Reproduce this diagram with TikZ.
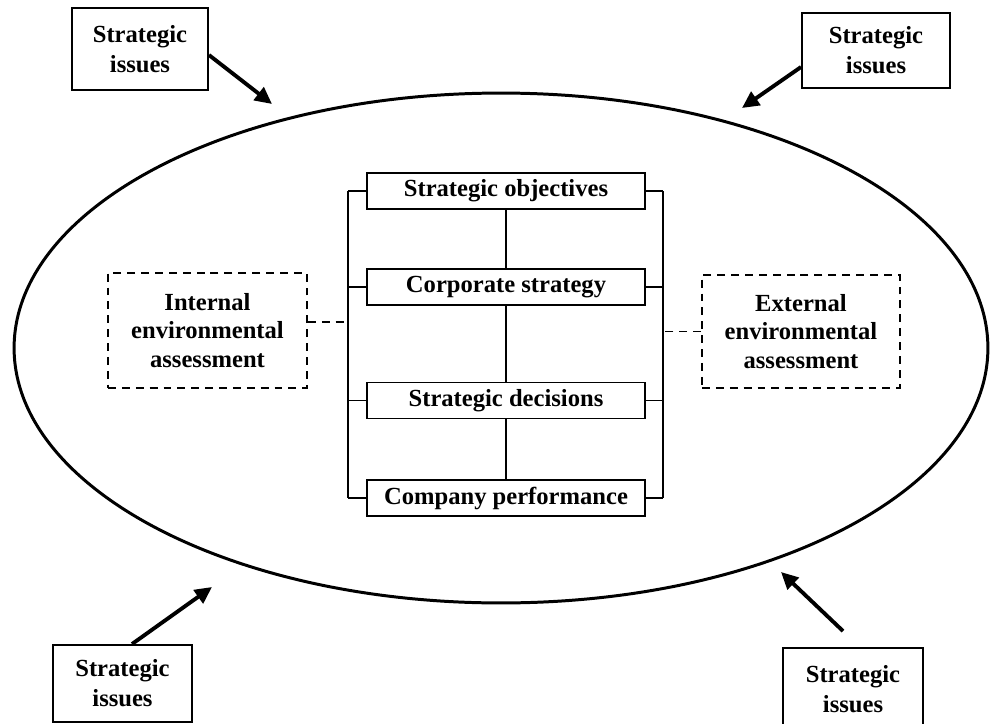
\documentclass[tikz,border=0pt]{standalone}
\usepackage{fontspec}
\setmainfont{Liberation Serif}
\usetikzlibrary{arrows.meta}
\begin{document}
\begin{tikzpicture}[x=0.02cm,y=-0.02cm,
  font=\fontsize{14}{17}\selectfont\bfseries,
  stagebox/.style={draw, line width=1.1pt, inner sep=0pt,
    minimum width=5.56cm, minimum height=0.72cm},
  issuebox/.style={draw, line width=1.1pt, inner sep=0pt, align=center},
  assessbox/.style={draw, line width=1.1pt, inner sep=0pt, align=center,
    dash pattern=on 4.5pt off 3.4pt, font=\fontsize{14}{16}\selectfont\bfseries},
  link/.style={line width=1.1pt},
  dashlink/.style={line width=1.1pt, dash pattern=on 4.5pt off 3.4pt},
  issuearrow/.style={line width=2.2pt, -{Triangle[length=0.34cm,width=0.32cm]}}
]
\useasboundingbox (0,0) rectangle (992,724);

% surrounding ellipse
\draw[line width=1.7pt] (501,348) ellipse [x radius=9.74cm, y radius=5.1cm];

% central chain of stages
\node[stagebox] (so) at (506,191)   {Strategic objectives};
\node[stagebox] (cs) at (506,287)   {Corporate strategy};
\node[stagebox] (sd) at (506,400.5) {Strategic decisions};
\node[stagebox] (cp) at (506,498)   {Company performance};

\draw[link] (so.south) -- (cs.north);
\draw[link] (cs.south) -- (sd.north);
\draw[link] (sd.south) -- (cp.north);

% side brackets
\coordinate (lx) at (348,0);
\coordinate (rx) at (663,0);
\draw[link] (so.west -| lx) -- (cp.west -| lx);
\draw[link] (so.east -| rx) -- (cp.east -| rx);
\foreach \b in {so,cs,sd,cp}{
  \draw[link] (\b.west) -- (\b.west -| lx);
  \draw[link] (\b.east) -- (\b.east -| rx);
}

% environmental assessments
\node[assessbox, minimum width=3.98cm, minimum height=2.3cm] (ia) at (207.5,330.5)
  {Internal\\environmental\\assessment};
\node[assessbox, minimum width=3.96cm, minimum height=2.26cm] (ea) at (801,331.5)
  {External\\environmental\\assessment};

\coordinate (iap) at ([yshift=0.17cm]ia.east);
\draw[dashlink] (iap) -- (iap -| lx);
\draw[dashlink] (ea.west) -- (ea.west -| rx);

% strategic issues in the corners
\node[issuebox, minimum width=2.72cm, minimum height=1.64cm] (tl) at (140,49)    {Strategic\\issues};
\node[issuebox, minimum width=2.96cm, minimum height=1.5cm]  (tr) at (876,50.5)  {Strategic\\issues};
\node[issuebox, minimum width=2.78cm, minimum height=1.54cm] (bl) at (122.5,683.5) {Strategic\\issues};
\node[issuebox, minimum width=2.8cm,  minimum height=1.64cm] (br) at (853,689)   {Strategic\\issues};

\coordinate (tltip) at (272,104);
\coordinate (trtip) at (742,108);
\coordinate (bltip) at (212,587);
\coordinate (brtip) at (781,572);

\draw[issuearrow] ([yshift=-0.12cm]tl.east) -- (tltip);
\draw[issuearrow] ([yshift=-0.33cm]tr.west) -- (trtip);
\draw[issuearrow] ([xshift=0.19cm]bl.north) -- (bltip);
\draw[issuearrow] ([shift={(-0.2cm,0.32cm)}]br.north) -- (brtip);
\end{tikzpicture}
\end{document}
